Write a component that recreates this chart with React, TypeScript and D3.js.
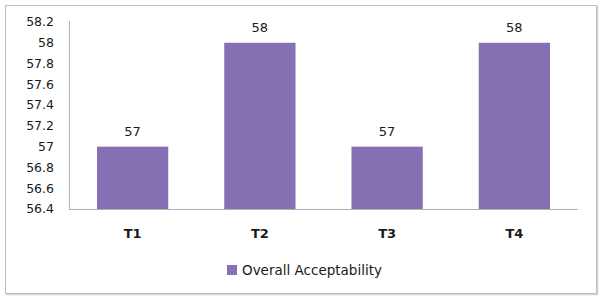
import React from "react";
import * as d3 from "d3";

const categories = ["T1", "T2", "T3", "T4"];
const values = [57, 58, 57, 58];
const yTicks = [56.4, 56.6, 56.8, 57, 57.2, 57.4, 57.6, 57.8, 58, 58.2];
const seriesName = "Overall Acceptability";

export default function App() {
  const W = 602, H = 299;
  const left = 69, right = 578, top = 22, bottom = 209;
  const x = d3.scaleBand<string>().domain(categories).range([left, right]).paddingInner(0.44).paddingOuter(0.22);
  const y = d3.scaleLinear().domain([56.4, 58.2]).range([bottom, top]);
  const color = "#8470b2";
  const font = "'DejaVu Sans', Verdana, sans-serif";
  return (
    <svg width={W} height={H} style={{ position: "absolute", left: 0, top: 0, display: "block" }} fontFamily={font}>
      <rect x={0} y={0} width={W} height={H} fill="#fff" />
      <rect x={6.5} y={6.5} width={591} height={288} fill="none" stroke="#d4d4d4" strokeWidth={1.5} />
      <rect x={5.5} y={5.5} width={591} height={288} fill="#fff" stroke="#c0c0c0" strokeWidth={1} />
      <line x1={left + 0.5} x2={left + 0.5} y1={top - 1} y2={bottom} stroke="#b0b0b0" />
      <line x1={left} x2={right} y1={bottom + 0.5} y2={bottom + 0.5} stroke="#b0b0b0" />
      {yTicks.map((t) => (
        <text key={t} x={54} y={y(t)} dy="0.35em" textAnchor="end" fontSize={12.5} fill="#1a1a1a">
          {d3.format("")(t)}
        </text>
      ))}
      {categories.map((c, i) => (
        <g key={c}>
          <rect x={x(c)!} y={y(values[i])} width={x.bandwidth()} height={bottom - y(values[i])} fill={color} />
          <text x={x(c)! + x.bandwidth() / 2} y={y(values[i]) - 15} dy="0.35em" textAnchor="middle" fontSize={13} fill="#1a1a1a">
            {values[i]}
          </text>
          <text x={x(c)! + x.bandwidth() / 2} y={233} dy="0.35em" textAnchor="middle" fontSize={13} fontWeight="bold" fill="#1a1a1a">
            {c}
          </text>
        </g>
      ))}
      <rect x={227} y={265} width={10} height={10} fill={color} />
      <text x={242} y={270} dy="0.35em" fontSize={13.5} fill="#1a1a1a">{seriesName}</text>
    </svg>
  );
}
